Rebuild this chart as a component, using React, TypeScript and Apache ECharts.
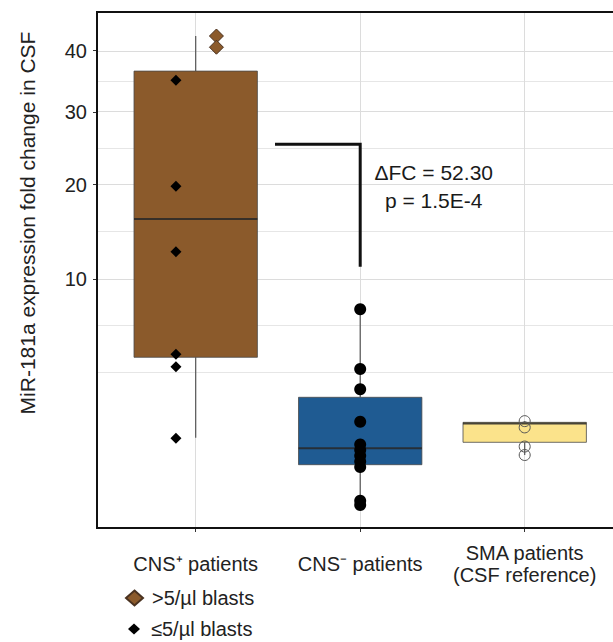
import React, { useEffect, useRef } from "react";
import * as echarts from "echarts";

// ---------- data (original fold-change units) ----------
const categories = ["CNS⁺ patients", "CNS⁻ patients", "SMA patients\n(CSF reference)"];
const yTickValues = [10, 20, 30, 40];
const yMinorGridValues = [3.48, 6.35, 14.57, 24.75, 34.82];

const boxMin = [0.94, 0.002, 0.535];
const boxQ1 = [4.34, 0.357, 0.823];
const boxMedian = [15.97, 0.68, 1.36];
const boxQ3 = [36.5, 2.34, 1.4];
const boxMax = [42.6, 7.55, 1.44];

const highBlastValues = [42.6, 40.6]; // CNS+ , >5/µl blasts
const lowBlastValues = [35.0, 19.8, 12.56, 4.51, 3.81, 0.93]; // CNS+ , ≤5/µl blasts
const cnsNegValues = [7.55, 3.69, 2.69, 1.42, 0.77, 0.64, 0.52, 0.41, 0.32, 0.0099, 0.0016];
const smaValues = [1.44, 1.24, 0.72, 0.535];

const bracketX = [0.482, 1, 1];
const bracketY = [25.3, 25.3, 11.13];
const annotationX = [1.447];
const annotationY = [19.8];
const annotationLines = ["ΔFC = 52.30", "p = 1.5E-4"];

const legendNames = [">5/µl blasts", "≤5/µl blasts"];
const yTitle = "MiR-181a expression fold change in CSF";

// ---------- styles / layout ----------
const FONT = "Liberation Sans, Arial, Helvetica, sans-serif";
const BOX_COLORS = ["#8b5a2b", "#1f5b92", "#fbe38b"];
const BOX_WIDTH = 0.75;
const HIGH_OFFSET = 0.126;
const LOW_OFFSET = -0.12;

const t = (v: number) => Math.sqrt(v);

export default function App() {
  const ref = useRef<HTMLDivElement>(null);
  useEffect(() => {
    if (!ref.current) return;
    const chart = echarts.init(ref.current, null, { renderer: "svg" });

    const boxData = categories.map((_, i) => [
      i,
      t(boxMin[i]),
      t(boxQ1[i]),
      t(boxMedian[i]),
      t(boxQ3[i]),
      t(boxMax[i]),
    ]);

    const gridLines = [
      ...yTickValues.map((v) => ({ yAxis: t(v), lineStyle: { color: "#dcdcdc", width: 1, type: "solid" } })),
      ...yMinorGridValues.map((v) => ({ yAxis: t(v), lineStyle: { color: "#e6e6e6", width: 1, type: "solid" } })),
      ...categories.map((_, i) => ({ xAxis: i, lineStyle: { color: "#dcdcdc", width: 1, type: "solid" } })),
    ];

    const option: any = {
      animation: false,
      backgroundColor: "#ffffff",
      grid: {
        left: 97,
        top: 12,
        right: -10.4,
        bottom: 114,
        outerBoundsMode: "none",
        containLabel: false,
        show: true,
        borderColor: "#111",
        borderWidth: 2,
        backgroundColor: "transparent",
        z: 10,
      },
      xAxis: {
        type: "value",
        min: -0.6,
        max: 2.6,
        axisLine: { show: false, onZero: false },
        splitLine: { show: false },
        axisTick: { show: true, customValues: [0, 1, 2], length: 4, lineStyle: { color: "#333" } },
        axisLabel: {
          customValues: [0, 1, 2],
          formatter: (v: number) => categories[Math.round(v)] ?? "",
          fontFamily: FONT,
          fontSize: 20,
          color: "#222",
          margin: 36,
          verticalAlign: "middle",
          lineHeight: 22,
          align: "center",
        },
      },
      yAxis: {
        type: "value",
        min: -0.278,
        max: 6.859,
        axisLine: { show: false, onZero: false },
        splitLine: { show: false },
        axisTick: { show: true, customValues: yTickValues.map(t), length: 4, lineStyle: { color: "#333" } },
        axisLabel: {
          customValues: yTickValues.map(t),
          formatter: (v: number) => String(Math.round(v * v)),
          fontFamily: FONT,
          fontSize: 20,
          color: "#222",
          margin: 10,
        },
      },
      legend: [
        {
          data: [{ name: legendNames[0], icon: "diamond" }],
          left: 125,
          top: 588,
          padding: 0,
          itemWidth: 17,
          itemHeight: 15,
          selectedMode: false,
          textStyle: { fontFamily: FONT, fontSize: 20, color: "#222", padding: [0, 0, 0, 4] },
        },
        {
          data: [{ name: legendNames[1], icon: "diamond" }],
          left: 128,
          top: 619,
          padding: 0,
          itemWidth: 12,
          itemHeight: 11,
          selectedMode: false,
          textStyle: { fontFamily: FONT, fontSize: 20, color: "#222", padding: [0, 0, 0, 6] },
        },
      ],
      graphic: [
        {
          type: "text",
          x: 27,
          y: 223,
          rotation: Math.PI / 2,
          style: {
            text: yTitle,
            fontFamily: FONT,
            fontSize: 21,
            fill: "#222",
            textAlign: "center",
            textVerticalAlign: "middle",
          },
        },
      ],
      series: [
        {
          type: "line",
          name: "grid",
          data: [],
          silent: true,
          z: 0,
          markLine: {
            silent: true,
            symbol: ["none", "none"],
            label: { show: false },
            data: gridLines,
            z: 0,
          },
        },
        {
          type: "custom",
          name: "boxes",
          z: 2,
          encode: { x: 0, y: [1, 2, 3, 4, 5] },
          data: boxData,
          renderItem: (params: any, api: any) => {
            const x = api.value(0);
            const pMin = api.coord([x, api.value(1)]);
            const pQ1 = api.coord([x, api.value(2)]);
            const pMed = api.coord([x, api.value(3)]);
            const pQ3 = api.coord([x, api.value(4)]);
            const pMax = api.coord([x, api.value(5)]);
            const half = api.size([BOX_WIDTH, 0])[0] / 2;
            const idx = params.dataIndex;
            const whisker = { stroke: "#555", lineWidth: 1.2 };
            return {
              type: "group",
              children: [
                { type: "line", shape: { x1: pMin[0], y1: pMin[1], x2: pQ1[0], y2: pQ1[1] }, style: whisker },
                { type: "line", shape: { x1: pQ3[0], y1: pQ3[1], x2: pMax[0], y2: pMax[1] }, style: whisker },
                {
                  type: "rect",
                  shape: { x: pQ3[0] - half, y: pQ3[1], width: 2 * half, height: pQ1[1] - pQ3[1] },
                  style: { fill: BOX_COLORS[idx], stroke: "#4a4a4a", lineWidth: 0.8 },
                },
                {
                  type: "line",
                  shape: { x1: pMed[0] - half, y1: pMed[1], x2: pMed[0] + half, y2: pMed[1] },
                  style: { stroke: "rgba(40,40,40,0.85)", lineWidth: 2 },
                },
              ],
            };
          },
        },
        {
          type: "scatter",
          name: legendNames[1],
          symbol: "diamond",
          symbolSize: 11,
          z: 3,
          itemStyle: { color: "#000", opacity: 1 },
          data: lowBlastValues.map((v) => [LOW_OFFSET, t(v)]),
        },
        {
          type: "scatter",
          name: legendNames[0],
          symbol: "diamond",
          symbolSize: 14,
          z: 3,
          itemStyle: { color: "#8b5a2b", borderColor: "#4a3220", borderWidth: 1, opacity: 1 },
          data: highBlastValues.map((v) => [HIGH_OFFSET, t(v)]),
        },
        {
          type: "scatter",
          name: "CNS- points",
          symbol: "circle",
          symbolSize: 12,
          z: 3,
          itemStyle: { color: "#000", opacity: 1 },
          data: cnsNegValues.map((v) => [1, t(v)]),
        },
        {
          type: "scatter",
          name: "SMA points",
          symbol: "circle",
          symbolSize: 11,
          z: 3,
          itemStyle: { color: "rgba(0,0,0,0)", borderColor: "#555", borderWidth: 1, opacity: 1 },
          data: smaValues.map((v) => [2, t(v)]),
        },
        {
          type: "line",
          name: "bracket",
          z: 4,
          symbol: "none",
          showSymbol: false,
          silent: true,
          lineStyle: { color: "#111", width: 3, join: "miter", cap: "butt" },
          data: bracketX.map((x, i) => [x, t(bracketY[i])]),
        },
        {
          type: "scatter",
          name: "annotation",
          symbolSize: 0,
          z: 5,
          silent: true,
          itemStyle: { opacity: 1 },
          label: {
            show: true,
            position: "inside",
            formatter: annotationLines.join("\n"),
            fontFamily: FONT,
            fontSize: 21,
            lineHeight: 28,
            color: "#1a1a1a",
            align: "center",
          },
          data: annotationX.map((x, i) => [x, t(annotationY[i])]),
        },
      ],
    };

    chart.setOption(option);
    return () => chart.dispose();
  }, []);

  return (
    <div
      ref={ref}
      style={{ position: "absolute", left: 0, top: 0, width: 613, height: 642, background: "#fff" }}
    />
  );
}
